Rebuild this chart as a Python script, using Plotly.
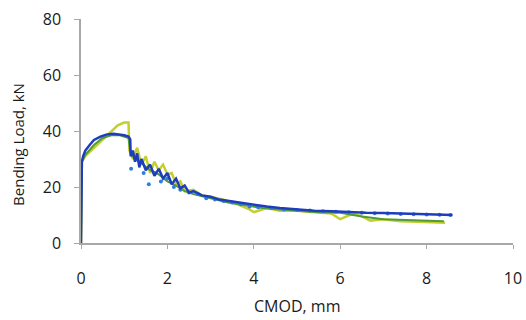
import plotly.graph_objects as go

# Dark blue series
blue_x = [0, 0.02, 0.05, 0.1, 0.2, 0.3, 0.45, 0.6, 0.75, 0.9, 1.0, 1.1, 1.14, 1.15, 1.2, 1.25, 1.3, 1.35, 1.4, 1.5,
          1.6, 1.7, 1.8, 1.9, 2.0, 2.1, 2.2, 2.3, 2.4, 2.5, 2.6, 2.8, 3.0, 3.2, 3.4, 3.6, 3.8, 4.0, 4.3, 4.6,
          5.0, 5.4, 5.8, 6.2, 6.6, 7.0, 7.4, 7.8, 8.2, 8.6]
blue_y = [0, 29, 31, 33, 35, 36.8, 38, 38.8, 39, 38.8, 38.5, 38, 37, 31, 33, 29, 32, 27, 30, 26,
          28, 24, 26.5, 23, 25, 21, 23, 19.5, 20.5, 18, 18.5, 17, 16.5, 15.5, 15, 14.5, 14, 13.5, 13, 12.5,
          12, 11.5, 11.3, 11, 10.8, 10.7, 10.5, 10.3, 10.2, 10]

# Yellow-green series
yellow_x = [0, 0.02, 0.1, 0.3, 0.5, 0.7, 0.85, 1.0, 1.1, 1.12, 1.2, 1.3, 1.4, 1.5, 1.6, 1.7, 1.8, 1.9, 2.0, 2.1,
            2.2, 2.3, 2.4, 2.6, 2.8, 3.0, 3.3, 3.6, 3.9, 4.0, 4.3, 4.6, 5.0, 5.4, 5.8, 6.0, 6.3, 6.5, 6.7, 7.0,
            7.4, 7.8, 8.1, 8.43]
yellow_y = [0, 29, 31, 34, 37, 40, 42, 43, 43, 33, 30, 34, 28, 31, 25, 29, 26, 28, 24.5, 25,
            21, 22, 18.5, 19, 17, 16.5, 15.5, 14, 12, 11, 12.5, 11.5, 11.5, 11, 10.5, 8.5, 10.5, 9.5, 8, 8.5,
            7.8, 7.6, 7.3, 7.2]

# Green series
green_x = [0, 0.02, 0.1, 0.3, 0.5, 0.7, 0.9, 1.1, 1.15, 1.25, 1.4, 1.6, 1.8, 2.0, 2.2, 2.4, 2.6, 3.0, 3.4, 3.8,
           4.2, 4.6, 5.0, 5.5, 6.0, 6.5, 7.0, 7.5, 8.0, 8.4]
green_y = [0, 29, 31.5, 35, 37.5, 38.5, 38.5, 37.5, 32, 30, 28.5, 26, 24.5, 22, 20.5, 18.5, 17.5, 16, 14.5, 13.5,
           12.5, 12, 11.5, 11, 10.8, 9.5, 8.5, 8.3, 8.0, 7.8]

# Light blue dotted series
lblue_x = [1.16, 1.3, 1.45, 1.57, 1.7, 1.85, 2.0, 2.15, 2.3, 2.5, 2.7, 2.9, 3.1, 3.3, 3.5, 3.7, 3.9, 4.1, 4.4, 4.7,
           5.0, 5.3, 5.6, 5.9, 6.2, 6.5, 6.8, 7.1, 7.4, 7.7, 8.0, 8.3, 8.55]
lblue_y = [26.5, 30, 25, 21, 25, 22, 23, 20, 19, 18, 17.5, 16, 15.5, 15, 14.5, 13.8, 13, 12.8, 12.5, 12,
           11.8, 11.6, 11.3, 11.2, 11, 10.8, 10.6, 10.5, 10.4, 10.3, 10.2, 10.1, 10]

x_ticks = [0, 2, 4, 6, 8, 10]
y_ticks = [0, 20, 40, 60, 80]
x_title = "CMOD, mm"
y_title = "Bending Load, kN"

fig = go.Figure()
fig.add_trace(go.Scatter(x=yellow_x, y=yellow_y, mode="lines", line=dict(color="#c3cf2c", width=2.5)))
fig.add_trace(go.Scatter(x=green_x, y=green_y, mode="lines", line=dict(color="#4e9a3c", width=2)))
fig.add_trace(go.Scatter(x=lblue_x, y=lblue_y, mode="markers", marker=dict(color="#2f7fe0", size=4)))
fig.add_trace(go.Scatter(x=blue_x, y=blue_y, mode="lines", line=dict(color="#1f3cbc", width=2.5)))

font_family = "'Open Sans', Lato, sans-serif"
fig.update_layout(
    width=526, height=320,
    margin=dict(l=81, r=13, t=19, b=77),
    paper_bgcolor="white", plot_bgcolor="white",
    showlegend=False,
    font=dict(family=font_family, color="#1a1a1a"),
    xaxis=dict(range=[0, 10], tickvals=x_ticks, showgrid=False, zeroline=False, automargin=False,
               showline=True, linecolor="#a8a8a8", linewidth=1.5,
               ticks="outside", ticklen=4, tickcolor="#a8a8a8",
               tickfont=dict(size=16, family=font_family, color="#1a1a1a"),
               ticklabelstandoff=16),
    yaxis=dict(range=[0, 80], tickvals=y_ticks, showgrid=False, zeroline=False, automargin=False,
               showline=True, linecolor="#a8a8a8", linewidth=1.5,
               ticks="outside", ticklen=5, tickcolor="#a8a8a8",
               tickfont=dict(size=16, family=font_family, color="#1a1a1a"),
               ticklabelstandoff=10),
    annotations=[
        dict(text=x_title, xref="paper", yref="paper", x=0.5, y=-0.281, xanchor="center", yanchor="middle",
             showarrow=False, font=dict(size=16, family=font_family, color="#1a1a1a")),
        dict(text=y_title, xref="paper", yref="paper", x=-0.146, y=0.442, xanchor="center", yanchor="middle",
             textangle=-90, showarrow=False, font=dict(size=15, family=font_family, color="#1a1a1a")),
    ],
)
fig.write_html("out.html")
